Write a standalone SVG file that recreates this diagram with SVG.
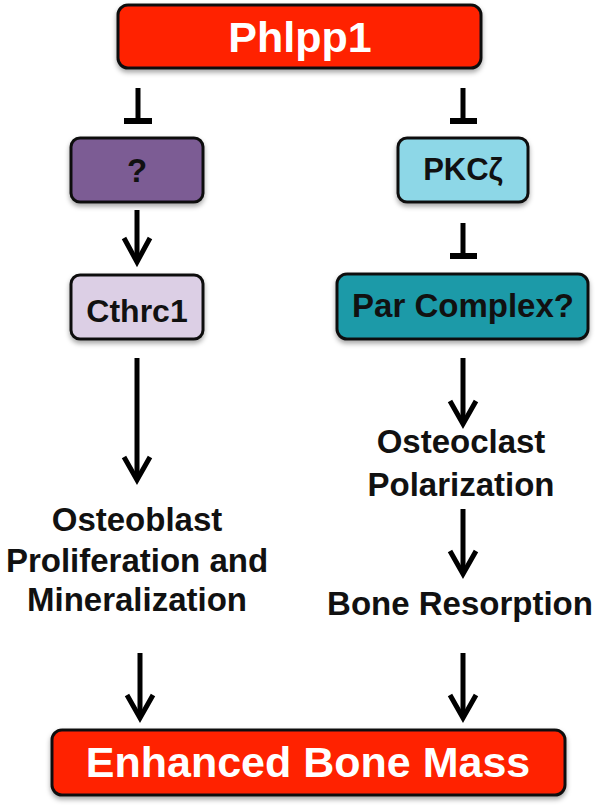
<svg xmlns="http://www.w3.org/2000/svg" width="600" height="811" viewBox="0 0 600 811">
<defs>
<filter id="sh" x="-10%" y="-20%" width="120%" height="150%">
<feDropShadow dx="0" dy="3" stdDeviation="2.5" flood-color="#000" flood-opacity="0.35"/>
</filter>
</defs>
<style>
.box{stroke:#111;stroke-width:3;filter:url(#sh)}
.t{font-family:"Liberation Sans",Arial,sans-serif;font-weight:bold;text-anchor:middle;fill:#111}
.w{fill:#fff}
.ln{stroke:#000;stroke-width:5;fill:none}
.bar{stroke:#000;stroke-width:6;fill:none}
.hd{stroke:#000;stroke-width:5;fill:none;stroke-linejoin:miter;stroke-linecap:butt}
</style>
<rect width="600" height="811" fill="#fff"/>
<g id="connectors">
<line class="ln" x1="138" y1="88" x2="138" y2="121"/>
<line class="bar" x1="124" y1="121" x2="152" y2="121"/>
<line class="ln" x1="463" y1="88" x2="463" y2="121"/>
<line class="bar" x1="450" y1="121" x2="477" y2="121"/>
<line class="ln" x1="463" y1="223" x2="463" y2="256"/>
<line class="bar" x1="450" y1="256" x2="477" y2="256"/>
<line class="ln" x1="137" y1="210" x2="137" y2="261"/>
<polyline class="hd" points="124,238 137,262 150,238"/>
<line class="ln" x1="137" y1="358" x2="137" y2="479"/>
<polyline class="hd" points="124,457 137,480 150,457"/>
<line class="ln" x1="463" y1="358" x2="463" y2="423"/>
<polyline class="hd" points="450,401 463,424 476,401"/>
<line class="ln" x1="463" y1="509" x2="463" y2="573"/>
<polyline class="hd" points="450,551 463,574 476,551"/>
<line class="ln" x1="140" y1="653" x2="140" y2="717"/>
<polyline class="hd" points="127,695 140,718 153,695"/>
<line class="ln" x1="463" y1="653" x2="463" y2="717"/>
<polyline class="hd" points="450,695 463,718 476,695"/>
</g>
<g id="phlpp1">
<rect class="box" x="118" y="5" width="363" height="63" rx="10" fill="#ff2000"/>
<text class="t w" x="300" y="52" font-size="43">Phlpp1</text>
</g>
<g id="unknown">
<rect class="box" x="71" y="138" width="132" height="64" rx="9" fill="#7b5b94"/>
<text class="t" x="137" y="182" font-size="33">?</text>
</g>
<g id="pkc">
<rect class="box" x="398" y="138" width="130" height="64" rx="9" fill="#8dd7e7"/>
<text class="t" x="463" y="180" font-size="31">PKCζ</text>
</g>
<g id="cthrc1">
<rect class="box" x="71" y="275" width="132" height="64" rx="9" fill="#dccfe5"/>
<text class="t" x="137" y="322" font-size="32">Cthrc1</text>
</g>
<g id="par">
<rect class="box" x="337" y="274" width="251" height="65" rx="10" fill="#1a9aa8"/>
<text class="t" x="463" y="317" font-size="33">Par Complex?</text>
</g>
<g id="osteoblast">
<text class="t" x="137" y="531" font-size="33">Osteoblast</text>
<text class="t" x="137" y="572" font-size="33">Proliferation and</text>
<text class="t" x="137" y="611" font-size="33">Mineralization</text>
</g>
<g id="osteoclast">
<text class="t" x="461" y="453" font-size="33">Osteoclast</text>
<text class="t" x="461" y="496" font-size="33">Polarization</text>
</g>
<g id="resorption">
<text class="t" x="460" y="615" font-size="33">Bone Resorption</text>
</g>
<g id="enhanced">
<rect class="box" x="52" y="730" width="513" height="65" rx="10" fill="#ff2000"/>
<text class="t w" x="308" y="777" font-size="43">Enhanced Bone Mass</text>
</g>
</svg>
